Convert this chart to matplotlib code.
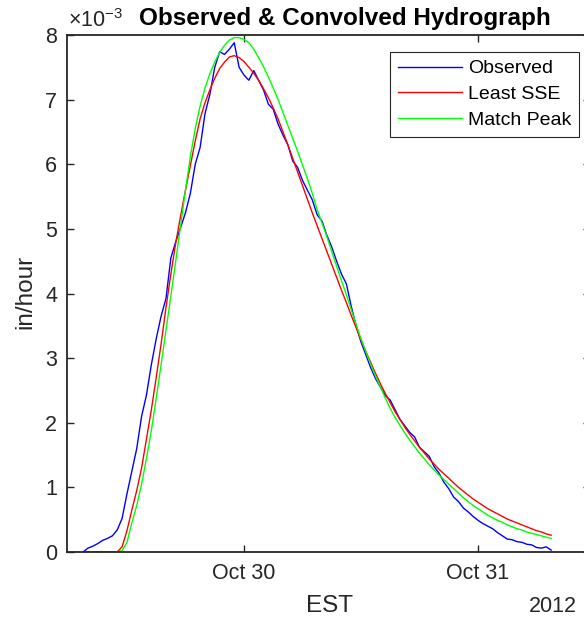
# coding: utf_8

""" Observed vs convolved hydrograph (MATLAB look-alike) """

import matplotlib
matplotlib.use("Agg")
import pandas as pd
from matplotlib import pyplot as plt
import matplotlib.dates as mdates

plt.rcParams['font.family'] = ['Liberation Sans', 'DejaVu Sans']

# runoff rate, in units of 1e-3 in/hour, every 30 min from 2012-10-29 07:30 EST
observed = [
    0.0, 0.06, 0.09, 0.13, 0.18, 0.21, 0.25, 0.34, 0.52, 0.9,
    1.25, 1.6, 2.1, 2.43, 2.9, 3.3, 3.65, 3.92, 4.55, 4.8,
    5.02, 5.25, 5.55, 6.0, 6.26, 6.78, 7.08, 7.5, 7.74, 7.7,
    7.78, 7.88, 7.5, 7.38, 7.3, 7.45, 7.3, 7.15, 6.93, 6.85,
    6.62, 6.45, 6.3, 6.05, 5.95, 5.75, 5.6, 5.45, 5.22, 5.12,
    4.9, 4.72, 4.5, 4.3, 4.15, 3.8, 3.5, 3.25, 3.05, 2.85,
    2.68, 2.55, 2.42, 2.35, 2.2, 2.05, 1.95, 1.85, 1.78, 1.62,
    1.55, 1.48, 1.32, 1.22, 1.08, 0.98, 0.85, 0.78, 0.68, 0.62,
    0.55, 0.49, 0.44, 0.4, 0.36, 0.3, 0.25, 0.2, 0.19, 0.16,
    0.15, 0.12, 0.11, 0.07, 0.06, 0.08, 0.03,
]

least_sse = [
    0.0, 0.0, 0.0, 0.0, 0.0, 0.0, 0.0, 0.0, 0.08, 0.33,
    0.65, 0.95, 1.3, 1.75, 2.2, 2.7, 3.22, 3.78, 4.3, 4.78,
    5.2, 5.6, 5.98, 6.36, 6.7, 6.95, 7.15, 7.33, 7.48, 7.58,
    7.66, 7.68, 7.65, 7.59, 7.5, 7.41, 7.3, 7.17, 7.03, 6.87,
    6.7, 6.5, 6.3, 6.09, 5.88, 5.67, 5.46, 5.25, 5.05, 4.85,
    4.65, 4.45, 4.25, 4.05, 3.86, 3.66, 3.47, 3.28, 3.1, 2.93,
    2.76, 2.6, 2.45, 2.31, 2.17, 2.05, 1.93, 1.82, 1.72, 1.62,
    1.53, 1.44, 1.36, 1.28, 1.21, 1.14, 1.07, 1.0, 0.94, 0.88,
    0.82, 0.77, 0.72, 0.67, 0.63, 0.59, 0.55, 0.51, 0.48, 0.45,
    0.42, 0.39, 0.36, 0.33, 0.31, 0.28, 0.26,
]

match_peak = [
    0.0, 0.0, 0.0, 0.0, 0.0, 0.0, 0.0, 0.0, 0.02, 0.15,
    0.45, 0.72, 1.05, 1.45, 1.88, 2.38, 2.9, 3.43, 3.96, 4.5,
    5.05, 5.6, 6.12, 6.55, 6.9, 7.18, 7.4, 7.58, 7.73, 7.84,
    7.92, 7.96, 7.96, 7.93, 7.88, 7.78, 7.65, 7.51, 7.35, 7.18,
    7.0, 6.8, 6.6, 6.4, 6.2, 5.99, 5.78, 5.55, 5.3, 5.09,
    4.88, 4.65, 4.42, 4.2, 3.98, 3.75, 3.52, 3.3, 3.1, 2.9,
    2.72, 2.55, 2.38, 2.22, 2.08, 1.96, 1.84, 1.73, 1.63, 1.53,
    1.44, 1.35, 1.27, 1.19, 1.12, 1.05, 0.98, 0.91, 0.84, 0.78,
    0.72, 0.67, 0.62, 0.57, 0.53, 0.49, 0.46, 0.42, 0.39, 0.36,
    0.34, 0.31, 0.29, 0.27, 0.25, 0.23, 0.21,
]

start = "2012-10-29 07:30"
obs_times = pd.date_range(start, periods=len(observed), freq="30min")
sse_times = pd.date_range(start, periods=len(least_sse), freq="30min")
peak_times = pd.date_range(start, periods=len(match_peak), freq="30min")

x_ticks = [pd.Timestamp("2012-10-30"), pd.Timestamp("2012-10-31")]
y_ticks = list(range(9))

TEXT = "#262626"
W, H = 584, 620

fig = plt.figure(figsize=(W / 100, H / 100), dpi=100)
ax = fig.add_axes([67 / W, (H - 552) / H, (590 - 67) / W, (552 - 35) / H])

ax.plot(obs_times, observed, color=(0, 0, 1), lw=1.0, label="Observed")
ax.plot(sse_times, least_sse, color=(1, 0, 0), lw=1.0, label="Least SSE")
ax.plot(peak_times, match_peak, color=(0, 1, 0), lw=1.0, label="Match Peak")

ax.set_xlim(pd.Timestamp("2012-10-29 05:51"), pd.Timestamp("2012-10-31 11:29"))
ax.set_ylim(0, 8)
ax.set_yticks(y_ticks)
ax.set_xticks(x_ticks)
ax.xaxis.set_major_formatter(mdates.DateFormatter("%b %d"))
ax.tick_params(direction="in", length=5, width=1, colors=TEXT,
               labelsize=15.5, top=True, right=True)
ax.tick_params(axis="y", pad=7)
ax.tick_params(axis="x", pad=8)
for spine in ax.spines.values():
    spine.set_color(TEXT)
    spine.set_linewidth(1.3)

leg = ax.legend(loc="upper right", bbox_to_anchor=(579 / W, 1 - 52 / H),
                bbox_transform=fig.transFigure, borderaxespad=0,
                fancybox=False, edgecolor=TEXT, fontsize=14,
                handlelength=3.3, handletextpad=0.3, labelspacing=0.42,
                borderpad=0.4, framealpha=1)
leg.get_frame().set_linewidth(0.8)

fig.text(345 / W, 1 - 25 / H, "Observed & Convolved Hydrograph",
         ha="center", va="baseline", fontsize=17.5, fontweight="bold")
fig.text(68 / W, 1 - 27 / H, r"$\mathregular{\times10^{-3}}$",
         ha="left", va="baseline", fontsize=15.5, color=TEXT)
fig.text(25.5 / W, 1 - 291.5 / H, "in/hour", rotation=90,
         ha="center", va="center", fontsize=17.5, color=TEXT)
fig.text(330 / W, 1 - 606 / H, "EST", ha="center", va="center",
         fontsize=17.5, color=TEXT)
fig.text(577 / W, 1 - 606 / H, "2012", ha="right", va="center",
         fontsize=15.5, color=TEXT)

fig.savefig("out.png", dpi=100)
